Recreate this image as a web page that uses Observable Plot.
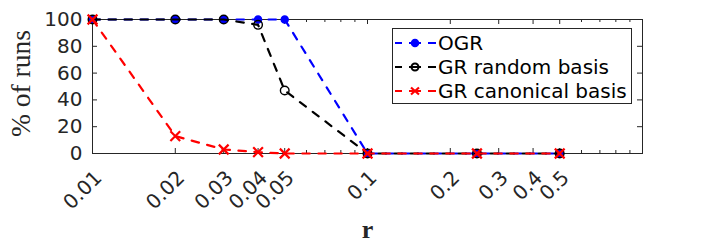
<!DOCTYPE html>
<html><head><meta charset="utf-8">
<script src="https://cdn.jsdelivr.net/npm/d3@7"></script>
<script src="https://cdn.jsdelivr.net/npm/@observablehq/plot@0.6"></script>
<style>
body{margin:0;background:#fff}
#chart{width:710px;height:250px}
</style>
</head><body><div id="chart"></div>
<script>
const rValues = [0.01, 0.02, 0.03, 0.04, 0.05, 0.1, 0.25, 0.5];
const ogr = [100, 100, 100, 100, 100, 0, 0, 0];
const grRandom = [100, 100, 100, 96, 47, 0, 0, 0];
const grCanonical = [100, 13, 3, 1, 0, 0, 0, 0];
const seriesNames = ["OGR", "GR random basis", "GR canonical basis"];
const xTickValues = [0.01, 0.02, 0.03, 0.04, 0.05, 0.1, 0.2, 0.3, 0.4, 0.5];
const xMinorTicks = [0.06, 0.07, 0.08, 0.09, 0.6, 0.7, 0.8, 0.9];
const yTickValues = [0, 20, 40, 60, 80, 100];
const xLabel = "r";
const yLabel = "% of runs";

const rows = (vals) => rValues.map((r, i) => ({r, v: vals[i]}));
const dOGR = rows(ogr), dRand = rows(grRandom), dCan = rows(grCanonical);

const W = 710, H = 250, mL = 92, mR = 68, mT = 19, mB = 97;
const pw = W - mL - mR, ph = H - mT - mB;
const ax = "#262626";
const dash = "7.5,8.5";
const lw = 2.2;
const sans = "DejaVu Sans";

const plot = Plot.plot({
  width: W, height: H, marginLeft: mL, marginRight: mR, marginTop: mT, marginBottom: mB,
  style: {fontFamily: sans, color: ax, background: "white", overflow: "visible"},
  x: {type: "log", domain: [0.01, 1], axis: null},
  y: {domain: [0, 100], axis: null},
  marks: [
    // tick labels
    Plot.text(xTickValues, {x: d => d, text: d => String(d), frameAnchor: "bottom", textAnchor: "end", lineAnchor: "middle",
      rotate: -45, dx: 6, dy: 21, fontSize: 20, fontFamily: sans, fill: ax}),
    Plot.text(yTickValues, {y: d => d, text: d => String(d), frameAnchor: "left", textAnchor: "end", lineAnchor: "middle",
      dx: -10, fontSize: 20, fontFamily: sans, fill: ax}),
    // inward ticks
    Plot.tickX(xTickValues, {x: d => d, insetTop: ph - 5, stroke: ax}),
    Plot.tickX(xTickValues, {x: d => d, insetBottom: ph - 5, stroke: ax}),
    Plot.tickX(xMinorTicks, {x: d => d, insetTop: ph - 3, stroke: ax}),
    Plot.tickX(xMinorTicks, {x: d => d, insetBottom: ph - 3, stroke: ax}),
    Plot.tickY(yTickValues, {y: d => d, insetRight: pw - 5, stroke: ax}),
    Plot.tickY(yTickValues, {y: d => d, insetLeft: pw - 5, stroke: ax}),
    Plot.frame({stroke: ax}),
    // axis titles
    Plot.text([xLabel], {frameAnchor: "bottom", textAnchor: "middle", dy: 84, fontFamily: "Liberation Serif", fontWeight: "bold", fontSize: 26, fill: ax}),
    Plot.text([yLabel], {frameAnchor: "left", textAnchor: "middle", rotate: -90, dx: -71, dy: -3, fontFamily: "Liberation Serif", fontSize: 27.5, fill: ax}),
    // series
    Plot.line(dOGR, {x: "r", y: "v", stroke: "#0000ff", strokeWidth: lw, strokeDasharray: dash}),
    Plot.dot(dOGR, {x: "r", y: "v", r: 3.5, fill: "#0000ff", stroke: "#0000ff", strokeWidth: 1.5}),
    Plot.line(dRand, {x: "r", y: "v", stroke: "#000000", strokeWidth: lw, strokeDasharray: dash}),
    Plot.dot(dRand, {x: "r", y: "v", r: 4.3, fill: "none", stroke: "#000000", strokeWidth: 1.4}),
    Plot.line(dCan, {x: "r", y: "v", stroke: "#ff0000", strokeWidth: lw, strokeDasharray: dash}),
    Plot.dot(dCan, {x: "r", y: "v", r: 4.5, symbol: "times", stroke: "#ff0000", strokeWidth: 2.2})
  ]
});
document.getElementById("chart").appendChild(plot);

// legend inside the axes
const svg = d3.select(plot);
const lg = svg.append("g");
lg.append("rect").attr("x", 392.5).attr("y", 28.5).attr("width", 239).attr("height", 75)
  .attr("fill", "white").attr("stroke", ax);
const colors = ["#0000ff", "#000000", "#ff0000"];
const rowY = [43, 67, 91];
seriesNames.forEach((name, i) => {
  const y = rowY[i], c = colors[i];
  [[395, 402], [409, 421], [428, 436]].forEach(([a, b]) =>
    lg.append("line").attr("x1", a).attr("x2", b).attr("y1", y).attr("y2", y).attr("stroke", c).attr("stroke-width", 2));
  if (i === 0) lg.append("circle").attr("cx", 415).attr("cy", y).attr("r", 3.5).attr("fill", c).attr("stroke", c).attr("stroke-width", 1.5);
  if (i === 1) lg.append("circle").attr("cx", 415).attr("cy", y).attr("r", 3.5).attr("fill", "none").attr("stroke", c).attr("stroke-width", 2);
  if (i === 2) lg.append("path").attr("d", `M${411},${y - 3.5}L${419},${y + 3.5}M${411},${y + 3.5}L${419},${y - 3.5}`).attr("stroke", c).attr("stroke-width", 2.2);
  lg.append("text").attr("x", 438).attr("y", y + 7.3).attr("fill", "#000").attr("text-anchor", "start")
    .attr("font-family", sans).attr("font-size", 20).text(name);
});
</script>
</body></html>
